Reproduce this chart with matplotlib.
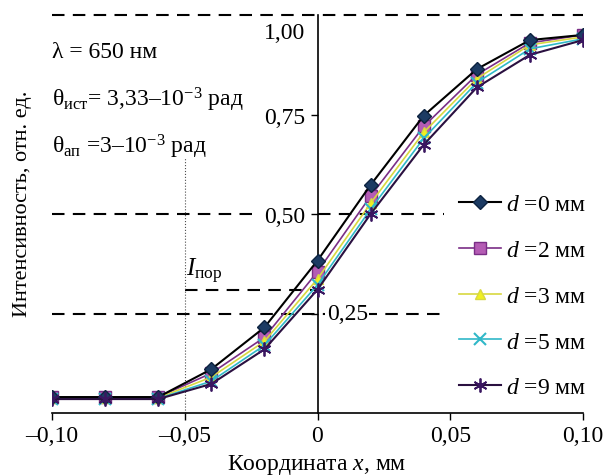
import matplotlib
matplotlib.use("Agg")
import matplotlib.pyplot as plt

plt.rcParams['font.family'] = ['Liberation Serif', 'DejaVu Serif']
plt.rcParams['mathtext.fontset'] = 'custom'
plt.rcParams['mathtext.rm'] = 'Liberation Serif'
plt.rcParams['mathtext.it'] = 'Liberation Serif:italic'

# data
x = [-0.10, -0.08, -0.06, -0.04, -0.02, 0.0, 0.02, 0.04, 0.06, 0.08, 0.10]
d0 = [0.04, 0.04, 0.04, 0.11, 0.215, 0.383, 0.573, 0.747, 0.864, 0.937, 0.95]
d2 = [0.04, 0.04, 0.04, 0.10, 0.19, 0.355, 0.545, 0.72, 0.85, 0.93, 0.95]
d3 = [0.038, 0.038, 0.038, 0.09, 0.18, 0.337, 0.527, 0.705, 0.84, 0.925, 0.945]
d5 = [0.036, 0.036, 0.036, 0.08, 0.17, 0.322, 0.512, 0.69, 0.83, 0.915, 0.94]
d9 = [0.035, 0.035, 0.035, 0.073, 0.16, 0.31, 0.50, 0.674, 0.818, 0.90, 0.937]
labels = ['$d$ =0 мм', '$d$ =2 мм', '$d$ =3 мм', '$d$ =5 мм', '$d$ =9 мм']
I_por = 0.308

FS = 17
fig = plt.figure(figsize=(6.05, 4.77), dpi=100)
ax = fig.add_axes([52/605, 1-414/477, 531/605, 398/477])

# reference lines
dash = (0, (6, 4))
ax.plot([-0.10, 0.10], [1.0, 1.0], 'k', ls=dash, lw=1.5, clip_on=False)
ax.plot([-0.10, -0.024], [0.5, 0.5], 'k', ls=dash, lw=1.5)
ax.plot([0.0, 0.0475], [0.5, 0.5], 'k', ls=dash, lw=1.5)
ax.plot([-0.10, 0.0475], [0.25, 0.25], 'k', ls=dash, lw=1.5)
ax.plot([-0.05, 0.0], [I_por, I_por], 'k', ls=dash, lw=1.5)
ax.plot([-0.05, -0.05], [0, 0.64], color='0.3', ls=':', lw=0.8)

ax.plot(x, d0, color='black', lw=1.5, marker='D', ms=7, mfc='#1c3b63', mec='#0d2340', label=labels[0], zorder=5)
ax.plot(x, d2, color='#7a2e86', lw=1.2, marker='s', ms=8, mfc='#b45cb4', mec='#7a2e86', label=labels[1], zorder=4)
ax.plot(x, d3, color='#d8d840', lw=1.2, marker='^', ms=7, mfc='#f0f020', mec='#d8d840', label=labels[2], zorder=4)
ax.plot(x, d5, color='#30b8c8', lw=1.2, marker='x', ms=8, mew=1.5, label=labels[3], zorder=4)
ax.plot(x, d9, color='#2a1040', lw=1.5, marker=(6, 2, 0), ms=10, mew=1.3, mec='#3a1660', label=labels[4], zorder=5)

ax.set_xlim(-0.10, 0.10)
ax.set_ylim(0, 1.0)
for s in ['top', 'right']:
    ax.spines[s].set_visible(False)
ax.spines['left'].set_position(('data', 0))
ax.spines['left'].set_linewidth(1.2)
ax.spines['bottom'].set_linewidth(1.2)

ax.set_xticks([-0.10, -0.05, 0.0, 0.05, 0.10])
ax.set_xticklabels(['–0,10', '–0,05', '0', '0,05', '0,10'])
ax.set_yticks([0.25, 0.5, 0.75])
ax.set_yticklabels(['', '0,50', '0,75'])
ax.tick_params(labelsize=FS, direction='out', length=5, width=1)

ax.text(-0.0045, 0.957, '1,00', fontsize=FS, ha='right', va='center')
ax.text(0.0035, 0.25, '0,25', fontsize=FS, ha='left', va='center',
        bbox=dict(facecolor='white', edgecolor='none', pad=1), zorder=3)
ax.text(-0.0495, 0.322, r'$I_{\mathrm{пор}}$', fontsize=18, ha='left', va='bottom')

fig.text(52/605, 1-52/477, 'λ = 650 нм', fontsize=FS, va='center')
fig.text(52/605, 1-100/477, 'θ$_{\\mathrm{ист}}$= 3,33–10$^{-3}$ рад', fontsize=FS, va='center')
fig.text(52/605, 1-147/477, 'θ$_{\\mathrm{ап}}$ =3–10$^{-3}$ рад', fontsize=FS, va='center')

fig.text(23/605, 1-204/477, 'Интенсивность, отн. ед.', fontsize=16, rotation=90, ha='center', va='center')
fig.text(317/605, 1-465/477, 'Координата $x$, мм', fontsize=FS, ha='center', va='center')

ax.legend(loc='center left', bbox_to_anchor=(442/605, 1-297/477), bbox_transform=fig.transFigure,
          frameon=False, fontsize=FS, handlelength=1.8, handletextpad=0.2, labelspacing=1.03,
          borderpad=0.2)

fig.savefig('out.png', dpi=100)
